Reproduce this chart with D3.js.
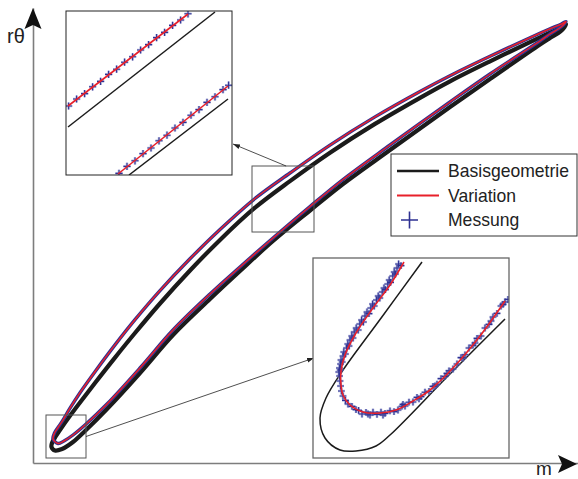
<!DOCTYPE html>
<html>
<head>
<meta charset="utf-8">
<script src="https://cdn.jsdelivr.net/npm/d3@7"></script>
<style>
  html, body { margin: 0; padding: 0; background: #fff; }
  svg { display: block; font-family: "Liberation Sans", Arial, sans-serif; }
</style>
</head>
<body>
<svg id="chart" width="578" height="479"></svg>
<script>
// ---- Blade profiles in (m, rθ) plot units, closed contours LE -> suction side -> TE -> pressure side ----
const baseSuction = [[3.8,4.0],[4.6,5.4],[5.8,7.2],[7.4,9.44],[9.4,12.1],[12.4,16.0],[16.4,21.08],[20.4,26.0],
  [25.4,31.9],[31.4,38.5],[37.4,44.62],[44.4,51.06],[51.4,56.38],[59.4,62.06],[68.4,67.82],[77.4,73.04],
  [83.4,76.34],[91.4,80.34],[99.4,84.18],[103.4,86.06],[105.6,87.1],[106.6,87.7]];
const basePressure = [[105.6,86.4],[103.4,85.0],[101.4,83.7],[91.4,76.8],[83.4,71.2],[71.4,62.6],[62.0,55.8],
  [55.4,50.5],[48.0,44.4],[41.4,38.4],[35.4,32.8],[28.0,25.6],[21.4,18.0],[14.8,10.8],[10.4,6.4],[8.0,4.2],
  [5.8,2.8],[4.4,2.5],[3.7,3.2]];

const varSuction = [[4.3,6.0],[5.0,7.1],[5.8,8.26],[7.4,10.96],[9.4,14.06],[12.4,18.26],[16.4,23.62],[20.4,28.66],
  [25.4,34.48],[31.4,40.84],[37.4,46.7],[44.4,52.9],[51.4,58.0],[59.4,63.58],[68.4,69.22],[77.4,74.3],
  [83.4,77.46],[91.4,81.34],[99.4,85.06],[103.4,86.84],[105.6,87.76],[106.6,88.3]];
const varPressure = [[105.6,87.2],[103.4,85.8],[101.4,84.4],[91.4,77.8],[83.4,72.2],[71.4,63.6],[62.0,56.7],
  [55.4,51.3],[48.0,45.0],[41.4,39.2],[35.4,33.8],[28.0,26.6],[21.4,19.0],[14.8,11.8],[10.4,7.6],[8.0,5.6],
  [6.2,4.4],[5.0,3.9],[4.0,4.8]];

// measured contour (dense scan, shown as a band in the overview)
const messSuction = varSuction;
const messPressure = varPressure;

// regions shown enlarged (plot units)
const regionMid = { m: [43.8, 56.2], r: [46.2, 59.4] };
const regionLE  = { m: [2.6, 10.6],  r: [1.0, 9.6] };

// ---- Detail A (mid-chord section), local detail units ----
const detA_baseUpper = [[1,24],[74.5,81.5]];
const detA_baseLower = [[31.5,0],[81,38]];
const detA_varUpper  = [[1,34.5],[61,80.5]];
const detA_varLower  = [[26,0.5],[81,44.5]];
const detA_messUpper = [[1.3,34.5],[5.3,38.0],[9.3,40.7],[13.3,44.1],[17.3,46.8],[21.3,50.3],[25.3,52.9],
  [29.3,56.4],[33.3,59.1],[37.3,62.5],[41.3,65.2],[45.3,68.7],[49.3,71.3],[53.3,74.8],[57.3,77.5],[61,80.6]];
const detA_messLower = [[26.5,0.8],[30.5,4.3],[34.5,7.1],[38.5,10.7],[42.5,13.5],[46.5,17.1],[50.5,19.9],
  [54.5,23.5],[58.5,26.3],[62.5,29.9],[66.5,32.7],[70.5,36.3],[74.5,39.1],[78.5,42.7],[81.3,44.9]];

// ---- Detail B (leading edge), local detail units ----
const detB_base = [[54.5,98],[34.25,70.25],[14,42.5],[6.5,30],[3.5,20],[6,10],[13.5,4],[21.5,3.5],
  [31.5,6],[38.5,11.5],[67,40.5],[96,69.5]];
const detB_var = [[45.5,98],[38.5,86.5],[30,75],[21.5,62.5],[16,51.5],[14,43.5],[14,36.5],[15,31.5],
  [18.5,26.5],[25,23],[33.5,22.5],[41.5,24],[50,28.5],[58.5,34],[70,45],[83.5,61],[96,78.5]];
const detB_mess = [
  [42.8,97],[42.0,95],[40.6,93],[39.9,91],[38.1,89],[37.4,87],[35.5,85],[34.6,83],[32.6,81],[31.7,79],
  [29.8,77],[28.9,75],[27.0,73],[26.0,71],[24.3,69],[23.4,67],[21.6,65],[20.6,63],[19.4,61],[18.5,59],
  [17.4,57],[16.8,55],[15.4,53],[15.0,51],[14.0,49],[13.8,47],[13.2,45],[12.9,43],[13.3,41],
  [44.0,96.2],[41.2,92.0],[38.8,87.8],[36.2,84.2],[33.4,80.0],[30.6,76.0],[28.0,72.2],[25.2,68.0],
  [22.6,64.0],[20.0,60.0],[18.0,56.0],[16.2,52.0],[14.6,48.0],[13.6,44.0],
  [13.5,38.5],[13.8,36.0],[14.2,33.5],[15.0,31.0],[16.2,28.8],[17.5,27.0],[19.5,25.8],[21.5,24.2],[22.8,23.8],
  [24.5,22.0],[26.5,22.8],[28.5,21.5],[30.0,22.9],[32.0,21.8],[34.0,22.9],[36.0,22.3],[38.5,23.6],[40.5,23.2],
  [42.5,24.0],[44.5,25.9],[46,26.0],[48,27.9],[50,28.0],[52,30.3],[54,30.7],[56,32.9],[58,33.3],
  [60,35.8],[62,36.9],[64,39.7],[66,40.8],[68,43.6],[70,44.5],[72,47.0],[74,50.2],[76,51.6],[78,55.0],
  [80,56.4],[82,59.8],[84,61.0],[86,65.0],[88,66.8],[90,70.5],[92,72.3],[94,76.0],[96,78.0],[97.5,79.3],
  [27.5,22.0],[35.0,21.5],[45.0,26.8],[53.0,29.6],[61.0,36.0],[67.0,42.3],[75.0,50.0],[81.0,57.5],[89.0,68.5],[95.0,76.8]];

const legendItems = ["Basisgeometrie", "Variation", "Messung"];
const axisLabels = { x: "m", y: "rθ" };

// ---- colours ----
const C_BASE = "#1b1b1b", C_VAR = "#e8202a", C_MESS = "#2e3192", C_AXIS = "#7d7d7d";

const svg = d3.select("#chart");

const x = d3.scaleLinear().domain([0, 109]).range([33, 578]);
const y = d3.scaleLinear().domain([0, 91]).range([463, 8]);

// ---- axes ----
const gx = svg.append("g").attr("transform", `translate(0,${y(0)})`)
  .call(d3.axisBottom(x).tickValues([]).tickSizeOuter(0));
const gy = svg.append("g").attr("transform", `translate(${x(0)},0)`)
  .call(d3.axisLeft(y).tickValues([]).tickSizeOuter(0));
[gx, gy].forEach(g => g.select(".domain").attr("stroke", C_AXIS).attr("stroke-width", 1.6));

// arrow heads
const xe = x.range()[1] - 1, ye = y.range()[0] + 1;
svg.append("path")
  .attr("d", `M${xe},${ye} L${xe - 19},${ye - 9} L${xe - 15},${ye} L${xe - 19},${ye + 9} Z`)
  .attr("fill", "#111");
const yx = x(0), yt = y.range()[1];
svg.append("path")
  .attr("d", `M${yx},${yt} L${yx - 8.5},${yt + 21} L${yx},${yt + 17} L${yx + 8.5},${yt + 21} Z`)
  .attr("fill", "#111");

svg.append("text").attr("x", 7).attr("y", 43).attr("font-size", 20).attr("fill", "#222").text(axisLabels.y);
svg.append("text").attr("x", 536).attr("y", 475).attr("font-size", 19).attr("fill", "#222").text(axisLabels.x);

// ---- main blade ----
const closedLine = d3.line().x(d => x(d[0])).y(d => y(d[1])).curve(d3.curveCatmullRomClosed.alpha(0.5));
const blade = svg.append("g").attr("fill", "none").attr("stroke-linejoin", "round").attr("stroke-linecap", "round");

blade.append("path").attr("d", closedLine(baseSuction.concat(basePressure)))
  .attr("stroke", C_BASE).attr("stroke-width", 4.2);
blade.append("path").attr("d", closedLine(messSuction.concat(messPressure)))
  .attr("stroke", C_MESS).attr("stroke-width", 3.4);
blade.append("path").attr("d", closedLine(varSuction.concat(varPressure)))
  .attr("stroke", C_VAR).attr("stroke-width", 1.5);

// ---- region boxes ----
function regionRect(r) {
  return { x0: x(r.m[0]), x1: x(r.m[1]), y0: y(r.r[1]), y1: y(r.r[0]) };
}
const rm = regionRect(regionMid), rl = regionRect(regionLE);
[rm, rl].forEach(b => {
  svg.append("rect").attr("x", b.x0).attr("y", b.y0).attr("width", b.x1 - b.x0).attr("height", b.y1 - b.y0)
    .attr("fill", "none").attr("stroke", "#555").attr("stroke-width", 1);
});

// arrow marker for connectors
svg.append("defs").append("marker").attr("id", "arr").attr("viewBox", "0 0 10 10")
  .attr("refX", 10).attr("refY", 5).attr("markerWidth", 7).attr("markerHeight", 7)
  .attr("markerUnits", "userSpaceOnUse").attr("orient", "auto")
  .append("path").attr("d", "M0,1.5 L10,5 L0,8.5 Z").attr("fill", "#222");

// ---- inset frames ----
const insetA = { x: 66, y: 11, w: 166, h: 164 };
const insetB = { x: 313, y: 258, w: 196, h: 200 };

// connectors
svg.append("line").attr("x1", rm.x0 + (rm.x1 - rm.x0) * 0.55).attr("y1", rm.y0)
  .attr("x2", insetA.x + insetA.w + 1).attr("y2", insetA.y + 133)
  .attr("stroke", "#222").attr("stroke-width", 0.8).attr("marker-end", "url(#arr)");
svg.append("line").attr("x1", rl.x1).attr("y1", (rl.y0 + rl.y1) / 2)
  .attr("x2", insetB.x + 1).attr("y2", insetB.y + 100)
  .attr("stroke", "#222").attr("stroke-width", 0.8).attr("marker-end", "url(#arr)");

function drawInset(frame, xd, yd, id, frameColor, frameWidth, draw) {
  const sx = d3.scaleLinear().domain(xd).range([frame.x, frame.x + frame.w]);
  const sy = d3.scaleLinear().domain(yd).range([frame.y + frame.h, frame.y]);
  svg.append("clipPath").attr("id", id).append("rect")
    .attr("x", frame.x).attr("y", frame.y).attr("width", frame.w).attr("height", frame.h);
  svg.append("rect").attr("x", frame.x).attr("y", frame.y).attr("width", frame.w).attr("height", frame.h)
    .attr("fill", "#fff");
  const g = svg.append("g").attr("clip-path", `url(#${id})`);
  draw(g, sx, sy);
  svg.append("rect").attr("x", frame.x).attr("y", frame.y).attr("width", frame.w).attr("height", frame.h)
    .attr("fill", "none").attr("stroke", frameColor).attr("stroke-width", frameWidth);
}

function crosses(g, pts, sx, sy, half) {
  const p = d => `M${sx(d[0]) - half},${sy(d[1])}h${2 * half}M${sx(d[0])},${sy(d[1]) - half}v${2 * half}`;
  g.append("g").selectAll("path").data(pts).join("path").attr("d", p)
    .attr("stroke", "#8e96d0").attr("stroke-width", 2.6).attr("opacity", 0.6).attr("fill", "none");
  g.append("g").selectAll("path").data(pts).join("path").attr("d", p)
    .attr("stroke", C_MESS).attr("stroke-width", 1.1).attr("fill", "none");
}

drawInset(insetA, [0, 83], [0, 82], "clipA", "#222", 1, (g, sx, sy) => {
  const ln = d3.line().x(d => sx(d[0])).y(d => sy(d[1]));
  [detA_baseUpper, detA_baseLower].forEach(d =>
    g.append("path").attr("d", ln(d)).attr("fill", "none").attr("stroke", C_BASE).attr("stroke-width", 1.5));
  crosses(g, detA_messUpper, sx, sy, 3.6);
  crosses(g, detA_messLower, sx, sy, 3.6);
  [detA_varUpper, detA_varLower].forEach(d =>
    g.append("path").attr("d", ln(d)).attr("fill", "none").attr("stroke", C_VAR).attr("stroke-width", 1.6));
});

drawInset(insetB, [0, 98], [0, 100], "clipB", "#666", 1.3, (g, sx, sy) => {
  const ln = d3.line().x(d => sx(d[0])).y(d => sy(d[1])).curve(d3.curveCatmullRom.alpha(0.5));
  g.append("path").attr("d", ln(detB_base)).attr("fill", "none").attr("stroke", C_BASE).attr("stroke-width", 1.5);
  crosses(g, detB_mess, sx, sy, 3.4);
  g.append("path").attr("d", ln(detB_var)).attr("fill", "none").attr("stroke", C_VAR).attr("stroke-width", 1.6);
});

// ---- legend ----
const lg = svg.append("g").attr("transform", "translate(391,154)");
lg.append("rect").attr("width", 186).attr("height", 82).attr("fill", "#fff")
  .attr("stroke", "#333").attr("stroke-width", 1);
const labels = [];
legendItems.forEach((name, i) => {
  const cy = 17 + i * 24.5;
  if (i === 0 || i === 1) {
    lg.append("line").attr("x1", 6).attr("x2", 48).attr("y1", cy).attr("y2", cy)
      .attr("stroke", i === 0 ? C_BASE : C_VAR).attr("stroke-width", i === 0 ? 2.6 : 2);
  } else {
    lg.append("path").attr("d", `M18.5,${cy - 8.5}v17M10,${cy}h17`)
      .attr("stroke", C_MESS).attr("stroke-width", 1.6).attr("fill", "none");
  }
  labels.push(lg.append("text").attr("x", 57).attr("y", cy + 6).attr("font-size", 17.5)
    .attr("fill", "#222").text(name));
});
// size legend text so the longest entry fills the box
const w0 = labels[0].node().getComputedTextLength();
if (w0 > 0) {
  const fs = Math.min(18.5, 17.5 * 121 / w0);
  labels.forEach(t => t.attr("font-size", fs));
}
</script>
</body>
</html>
